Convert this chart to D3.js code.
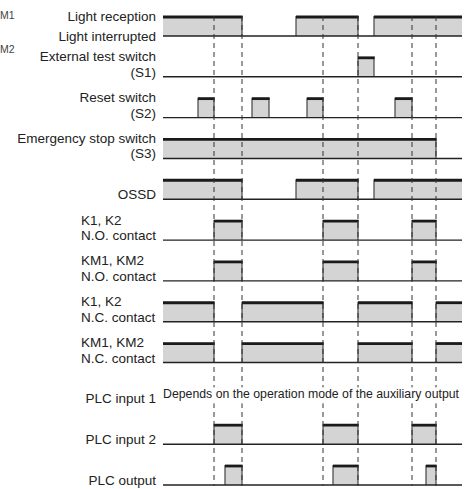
<!DOCTYPE html>
<html>
<head>
<meta charset="utf-8">
<script src="https://cdn.jsdelivr.net/npm/d3@7/dist/d3.min.js"></script>
<style>
  html, body { margin: 0; padding: 0; background: #fff; }
  svg text { font-family: "Liberation Sans", Arial, sans-serif; fill: #222; }
</style>
</head>
<body>
<div id="chart"></div>
<script>
// time values are in arbitrary units along the sequence (0 .. 299)
const timeEnd = 299;
const timingMarks = [51, 79, 160, 195, 249, 273];

const lightHigh = [[0, 79], [133, 195], [211, 299]];
const testSwitchHigh = [[195, 211]];
const resetHigh = [[35, 51], [89, 106], [144, 160], [232, 249]];
const estopHigh = [[0, 273]];
const ossdHigh = [[0, 79], [133, 195], [211, 299]];
const contactNO = [[51, 79], [160, 195], [249, 273]];
const contactNC = [[0, 51], [79, 160], [195, 249], [273, 299]];
const plcIn2High = [[51, 79], [160, 195], [249, 273]];
const plcOutHigh = [[62, 79], [170, 195], [263, 273]];

const rowLabels = [
  ["Light reception", "Light interrupted"],
  ["External test switch", "(S1)"],
  ["Reset switch", "(S2)"],
  ["Emergency stop switch", "(S3)"],
  ["OSSD"],
  ["K1, K2", "N.O. contact"],
  ["KM1, KM2", "N.O. contact"],
  ["K1, K2", "N.C. contact"],
  ["KM1, KM2", "N.C. contact"],
  ["PLC input 1"],
  ["PLC input 2"],
  ["PLC output"]
];
const rowSignals = [lightHigh, testSwitchHigh, resetHigh, estopHigh, ossdHigh,
  contactNO, contactNO, contactNC, contactNC, null, plcIn2High, plcOutHigh];
const leftAlignedRows = [5, 6, 7, 8];
const plcNote = "Depends on the operation mode of the auxiliary output";
const sideNotes = ["M1", "M2"];

const width = 467, height = 489;
const svg = d3.select("#chart").append("svg")
  .attr("width", width)
  .attr("height", height);

const x = d3.scaleLinear().domain([0, timeEnd]).range([163, 462]);
const y = d3.scalePoint().domain(d3.range(rowLabels.length)).range([36, 485]);
const level = 20;

// notes at the far left edge
svg.selectAll("text.side")
  .data(sideNotes)
  .enter().append("text")
  .attr("class", "side")
  .attr("x", 0)
  .attr("y", (d, i) => 19 + i * 34)
  .style("font-size", "10.5px")
  .style("fill", "#444")
  .text(d => d);

// waveforms
rowSignals.forEach((segs, i) => {
  const g = svg.append("g");
  const base = y(i);
  if (!segs) return;
  g.selectAll("rect")
    .data(segs)
    .enter().append("rect")
    .attr("x", d => x(d[0]))
    .attr("y", base - level)
    .attr("width", d => x(d[1]) - x(d[0]))
    .attr("height", level)
    .style("fill", "#d4d4d4");
  // edges
  g.selectAll("path.edge")
    .data(segs)
    .enter().append("path")
    .attr("class", "edge")
    .attr("d", d => {
      let p = "";
      if (d[0] > 0) p += `M${x(d[0])},${base}V${base - level}`;
      if (d[1] < timeEnd) p += `M${x(d[1])},${base}V${base - level}`;
      return p;
    })
    .style("stroke", "#444")
    .style("stroke-width", 1.2)
    .style("fill", "none");
  g.selectAll("line.top")
    .data(segs)
    .enter().append("line")
    .attr("class", "top")
    .attr("x1", d => x(d[0]))
    .attr("x2", d => x(d[1]) + (d[1] < timeEnd ? 0.6 : 0))
    .attr("y1", base - level + 1)
    .attr("y2", base - level + 1)
    .style("stroke", "#1a1a1a")
    .style("stroke-width", 2.8);
  g.append("line")
    .attr("x1", x(0))
    .attr("x2", x(timeEnd))
    .attr("y1", base)
    .attr("y2", base)
    .style("stroke", "#222")
    .style("stroke-width", 1.4);
});

// timing marks
svg.selectAll("line.mark")
  .data(timingMarks)
  .enter().append("line")
  .attr("class", "mark")
  .attr("x1", d => x(d))
  .attr("x2", d => x(d))
  .attr("y1", y(0) - level)
  .attr("y2", y(rowLabels.length - 1) + 1)
  .style("stroke", "#333")
  .style("stroke-width", 1)
  .style("stroke-dasharray", "5,4");

// note in PLC input 1 row
const noteY = y(9) - 5;
svg.append("rect")
  .attr("x", x(0))
  .attr("y", noteY - 11)
  .attr("width", 298)
  .attr("height", 16)
  .style("fill", "#fff");
svg.append("text")
  .attr("x", x(0))
  .attr("y", noteY)
  .attr("textLength", 296)
  .attr("lengthAdjust", "spacingAndGlyphs")
  .style("font-size", "12.5px")
  .text(plcNote);

// row labels
rowLabels.forEach((lines, i) => {
  const base = y(i);
  const left = leftAlignedRows.includes(i);
  lines.forEach((t, j) => {
    let ty;
    if (i === 0) ty = j === 0 ? base - level + 4.5 : base + 4.5;
    else ty = base - (lines.length - 1 - j) * 15.5;
    svg.append("text")
      .attr("x", left ? 81 : 156)
      .attr("y", ty)
      .attr("text-anchor", left ? "start" : "end")
      .style("font-size", "13.5px")
      .text(t);
  });
});
</script>
</body>
</html>
